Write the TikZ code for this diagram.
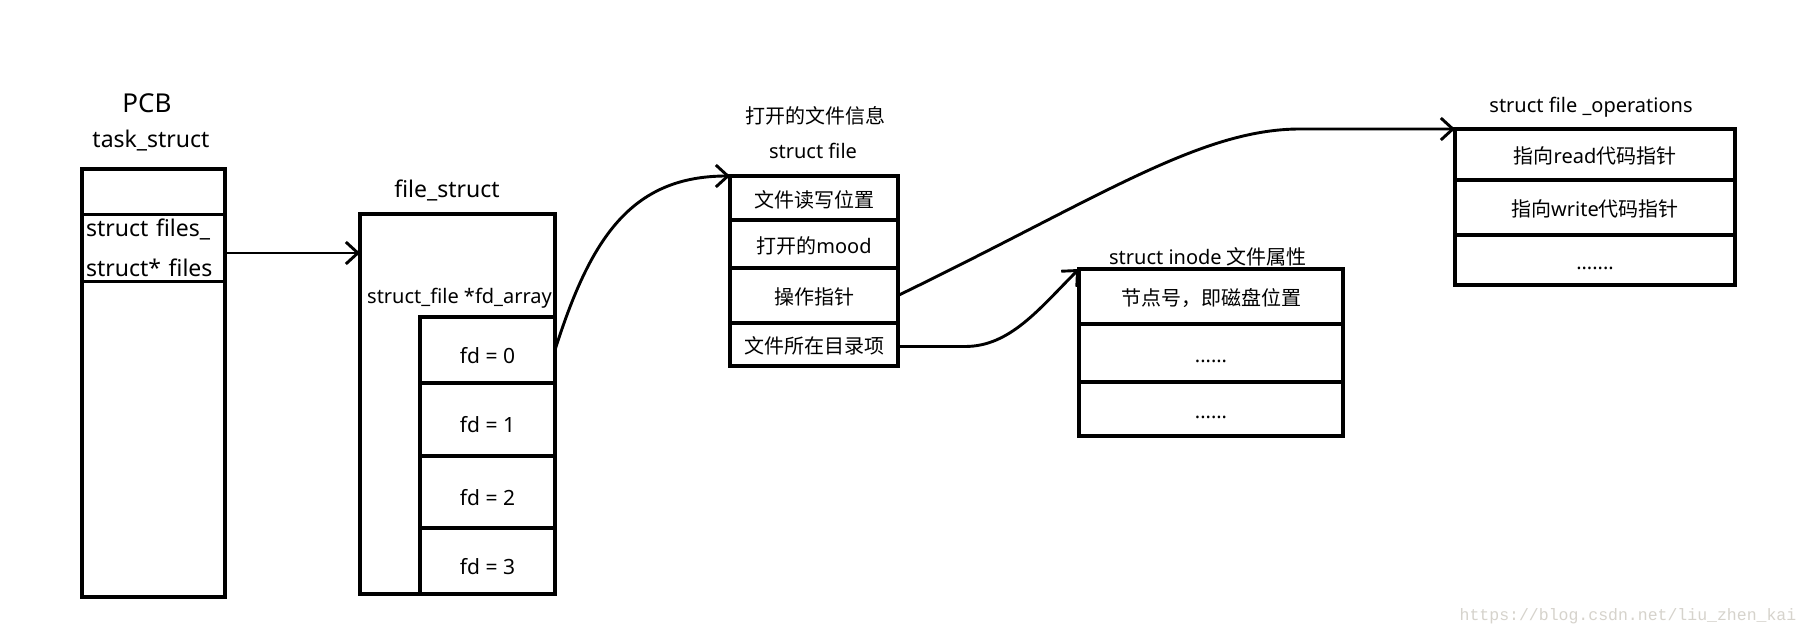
\documentclass[tikz,border=0pt]{standalone}
\usepackage{fontspec}
\setmainfont{Noto Sans}
\newfontfamily\cjk{Noto Sans CJK SC}
\newfontfamily\wmfont{Liberation Mono}
\usetikzlibrary{arrows.meta}
\definecolor{wmgray}{RGB}{214,211,204}
\begin{document}
\begin{tikzpicture}[x=1pt,y=-1pt,
  box/.style={draw, line width=3.4pt, rectangle, inner sep=0pt, outer sep=0pt, anchor=center},
  cell/.style={box, font=\fontsize{20}{24}\selectfont, text height=22pt, text depth=4pt},
  fdcell/.style={box, font=\fontsize{21}{24}\selectfont, text height=30pt, text depth=4pt},
  lbl/.style={inner sep=0pt, anchor=center, font=\fontsize{20}{24}\selectfont},
  biglbl/.style={inner sep=0pt, anchor=center, font=\fontsize{23}{26}\selectfont},
  conn/.style={line width=2.9pt, -{Straight Barb[length=12pt,width=22pt]}}
]
\useasboundingbox (0,0) rectangle (1810,637);
\fill[white] (0,0) rectangle (1810,637);

% PCB / task_struct
\node[inner sep=0pt, font=\fontsize{26}{30}\selectfont] (pcbl) at (147,103) {PCB};
\node[biglbl] (taskl) at (151,141) {task\_struct};
\node[box, minimum width=143pt, minimum height=428pt] (task) at (153.5,383) {};
\node[box, minimum width=143pt, minimum height=67pt, text width=135pt, align=left,
      font=\fontsize{23}{40}\selectfont] (files) at (153.5,248) {struct files\_\\struct* files};

% file_struct
\node[biglbl] (fsl) at (447,190) {file\_struct};
\node[box, minimum width=195pt, minimum height=380pt] (fs) at (457.5,404) {};
\node[lbl] (fdarr) at (459.5,298) {struct\_file *fd\_array};
\node[fdcell, minimum width=135pt, minimum height=66pt] (fd0) at (487.5,350) {fd = 0};
\node[fdcell, minimum width=135pt, minimum height=73pt] (fd1) at (487.5,419.5) {fd = 1};
\node[fdcell, minimum width=135pt, minimum height=72pt] (fd2) at (487.5,492) {fd = 2};
\node[fdcell, minimum width=135pt, minimum height=66pt] (fd3) at (487.5,561) {fd = 3};

% struct file
\node[lbl] (sfl1) at (815,116) {\cjk 打开的文件信息};
\node[lbl] (sfl2) at (813,151) {struct file};
\node[cell, minimum width=168pt, minimum height=44pt] (sf1) at (814,198) {\cjk 文件读写位置};
\node[cell, minimum width=168pt, minimum height=48pt] (sf2) at (814,244) {{\cjk 打开的}mood};
\node[cell, minimum width=168pt, minimum height=55pt] (sf3) at (814,295.5) {\cjk 操作指针};
\node[cell, minimum width=168pt, minimum height=43pt] (sf4) at (814,344.5) {\cjk 文件所在目录项};

% struct inode
\node[lbl] (inl) at (1208,257) {struct inode {\cjk 文件属性}};
\node[cell, minimum width=264pt, minimum height=55pt] (in1) at (1211,296.5) {\cjk 节点号，即磁盘位置};
\node[cell, minimum width=264pt, minimum height=58pt] (in2) at (1211,353) {......};
\node[cell, minimum width=264pt, minimum height=54pt] (in3) at (1211,409) {......};

% struct file_operations
\node[lbl] (fol) at (1591,107) {struct file \_operations};
\node[cell, minimum width=280pt, minimum height=51pt] (fo1) at (1595,154.5) {{\cjk 指向}read{\cjk 代码指针}};
\node[cell, minimum width=280pt, minimum height=55pt] (fo2) at (1595,207.5) {{\cjk 指向}write{\cjk 代码指针}};
\node[cell, minimum width=280pt, minimum height=50pt] (fo3) at (1595,260) {.......};

% watermark
\node[inner sep=0pt, text=wmgray, font=\wmfont\fontsize{16.5}{18}\selectfont] (wm) at (1628,616) {https://blog.csdn.net/liu\_zhen\_kai};

% connectors
\draw[conn] ([yshift=-5pt]files.east) -- ([yshift=-5pt]files.east -| fs.west);
\draw[conn] (fd0.east) .. controls +(35,-110) and +(-100,0) .. (sf1.north west);
\coordinate (k1) at ([xshift=-155pt]fo1.north west);
\draw[conn] (sf3.east) .. controls +(200,-97) and +(-100,0) .. (k1) -- (fo1.north west);
\coordinate (k2) at ([xshift=67pt,yshift=-2pt]sf4.east);
\draw[conn] ([yshift=-2pt]sf4.east) -- (k2) .. controls +(45,0) and +(-40,40) .. (in1.north west);
\end{tikzpicture}
\end{document}
